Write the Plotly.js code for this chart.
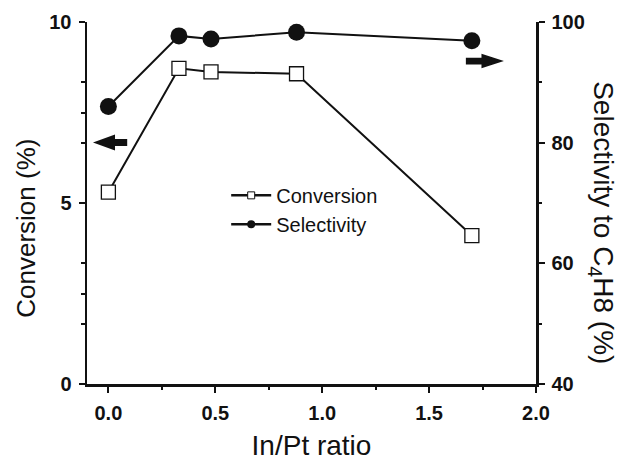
<!DOCTYPE html>
<html>
<head>
<meta charset="utf-8">
<script src="https://cdn.plot.ly/plotly-3.0.1.min.js"></script>
<style>html,body{margin:0;padding:0;background:#fff;}#chart{width:622px;height:461px;}</style>
</head>
<body>
<div id="chart"></div>
<script>
// In/Pt ratio
const ratio = [0, 0.33, 0.48, 0.88, 1.70];
// Conversion (%)  - left axis
const conversion = [5.3, 8.72, 8.62, 8.57, 4.1];
// Selectivity to C4H8 (%) - right axis
const selectivity = [86.0, 97.7, 97.2, 98.3, 96.9];

const xTicks = [0, 0.5, 1.0, 1.5, 2.0];
const xTickText = ['0.0', '0.5', '1.0', '1.5', '2.0'];
const yLeftTicks = [0, 5, 10];
const yLeftMinor = [5/3, 2.5, 10/3, 20/3, 7.5, 25/3];
const yRightTicks = [40, 60, 80, 100];

const FONT = 'Liberation Sans, Arial, Helvetica, sans-serif';
const tickFont = {family: FONT, size: 20, color: '#111', weight: 'bold'};

const traces = [
  {x: ratio, y: conversion, xaxis: 'x', yaxis: 'y', mode: 'lines+markers', name: 'Conversion', showlegend: false,
   line: {color: '#111', width: 2},
   marker: {symbol: 'square', size: 14, color: '#fff', line: {color: '#111', width: 1.3}}},
  {x: ratio, y: selectivity, xaxis: 'x', yaxis: 'y2', mode: 'lines+markers', name: 'Selectivity', showlegend: false,
   line: {color: '#111', width: 2},
   marker: {symbol: 'circle', size: 17, color: '#111'}},
  // legend-only entries (small symbols as in reference)
  {x: [null], y: [null], mode: 'lines+markers', name: 'Conversion', showlegend: true,
   line: {color: '#111', width: 2.5}, marker: {symbol: 'square', size: 7, color: '#fff', line: {color: '#111', width: 1}}},
  {x: [null], y: [null], mode: 'lines+markers', name: 'Selectivity', showlegend: true,
   line: {color: '#111', width: 2.5}, marker: {symbol: 'circle', size: 8, color: '#111'}}
];

// arrow glyph (pointing marker) built as a filled path in data units
function arrowPath(tipX, baseX, tailX, yc, headHalf, shaftHalf) {
  return 'M' + tipX + ',' + yc +
         ' L' + baseX + ',' + (yc + headHalf) +
         ' L' + baseX + ',' + (yc + shaftHalf) +
         ' L' + tailX + ',' + (yc + shaftHalf) +
         ' L' + tailX + ',' + (yc - shaftHalf) +
         ' L' + baseX + ',' + (yc - shaftHalf) +
         ' L' + baseX + ',' + (yc - headHalf) + ' Z';
}

const layout = {
  width: 622, height: 461,
  margin: {l: 87, r: 86, t: 22, b: 77},
  paper_bgcolor: '#fff', plot_bgcolor: '#fff',
  font: {family: FONT, color: '#111'},
  showlegend: true,
  legend: {x: 0.31, y: 0.575, xanchor: 'left', yanchor: 'top', bgcolor: 'rgba(0,0,0,0)',
           font: {family: FONT, size: 20, color: '#111'}, itemwidth: 40, tracegroupgap: 0},
  xaxis: {range: [-0.1, 2.0], tickmode: 'array', tickvals: xTicks, ticktext: xTickText,
          ticks: 'outside', ticklen: 6, tickwidth: 2, tickcolor: '#111',
          minor: {tickmode: 'linear', tick0: 0, dtick: 0.25, ticks: 'outside', ticklen: 3, tickwidth: 2, tickcolor: '#111'},
          showline: true, linewidth: 2.5, linecolor: '#111', showgrid: false, zeroline: false,
          tickfont: tickFont, ticklabelstandoff: 3,
          title: {text: 'In/Pt ratio', font: {family: FONT, size: 28, color: '#111'}, standoff: 14}},
  xaxis2: {range: [-0.1, 2.0], overlaying: 'x', side: 'top', anchor: 'y', tickmode: 'array', tickvals: xTicks,
          ticks: 'inside', ticklen: 5, tickwidth: 2, tickcolor: '#111', showticklabels: false,
          minor: {tickmode: 'linear', tick0: 0, dtick: 0.25, ticks: 'inside', ticklen: 3, tickwidth: 2, tickcolor: '#111'},
          showline: true, linewidth: 2.5, linecolor: '#111', showgrid: false, zeroline: false},
  yaxis: {range: [0, 10], tickmode: 'array', tickvals: yLeftTicks,
          ticks: 'outside', ticklen: 6, tickwidth: 2, tickcolor: '#111',
          minor: {tickmode: 'array', tickvals: yLeftMinor, ticks: 'outside', ticklen: 4, tickwidth: 2, tickcolor: '#111'},
          showline: true, linewidth: 2.5, linecolor: '#111', showgrid: false, zeroline: false,
          tickfont: tickFont, ticklabelstandoff: 3},
  yaxis2: {range: [40, 100], overlaying: 'y', side: 'right', anchor: 'x', tickmode: 'array', tickvals: yRightTicks,
          ticks: 'outside', ticklen: 6, tickwidth: 2, tickcolor: '#111',
          minor: {tickmode: 'linear', tick0: 40, dtick: 10, ticks: 'outside', ticklen: 3, tickwidth: 2, tickcolor: '#111'},
          showline: true, linewidth: 2.5, linecolor: '#111', showgrid: false, zeroline: false,
          tickfont: tickFont, ticklabelstandoff: 3},
  annotations: [
    {xref: 'paper', yref: 'paper', x: -0.135, y: 0.43, xanchor: 'center', yanchor: 'middle', textangle: -90,
     text: 'Conversion (%)', showarrow: false, font: {family: FONT, size: 26, color: '#111'}},
    {xref: 'paper', yref: 'paper', x: 1.147, y: 0.447, xanchor: 'center', yanchor: 'middle', textangle: 90,
     text: 'Selectivity to C<sub>4</sub>H8 (%)', showarrow: false, font: {family: FONT, size: 28, color: '#111'}}
  ],
  shapes: [
    // left-pointing arrow: Conversion uses left axis
    {type: 'path', xref: 'x', yref: 'y', fillcolor: '#111', line: {width: 0},
     path: arrowPath(-0.072, 0.031, 0.088, 6.67, 0.22, 0.095)},
    // right-pointing arrow: Selectivity uses right axis
    {type: 'path', xref: 'x', yref: 'y', fillcolor: '#111', line: {width: 0},
     path: arrowPath(1.85, 1.745, 1.672, 8.92, 0.2, 0.095)}
  ]
};

Plotly.newPlot('chart', traces, layout, {displayModeBar: false, staticPlot: true});
</script>
</body>
</html>
